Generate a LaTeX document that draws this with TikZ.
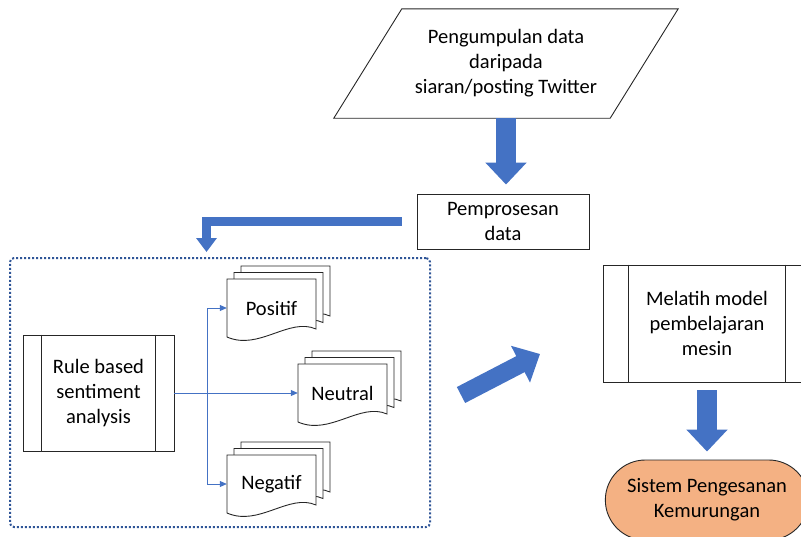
\documentclass[tikz,border=0pt]{standalone}
\usepackage{fontspec}
\setmainfont{Carlito}
\usepackage{tikz}
\usetikzlibrary{arrows.meta,positioning,shapes.misc}

\definecolor{fatblue}{HTML}{4472C4}
\definecolor{dotblue}{HTML}{2F5597}
\definecolor{termfill}{HTML}{F4B183}
\newcommand{\bodyfont}{\fontsize{20.5}{25}\selectfont}

% stacked document shape: name, left x, top y, text
\newcommand{\docstack}[4]{%
  \foreach \k in {2,1,0}
    \draw[docline,shift={(#2+7*\k,#3-6.5*\k)}] (0,0) -- (89,0) -- (89,50)
      .. controls (62,38) and (32,72) .. (0,58) -- cycle;
  \node[doctext] (#1) at (#2+44.5,#3+29) {#4};}

\begin{document}
\begin{tikzpicture}[x=1pt,y=-1pt,
  box/.style={draw=black!85,line width=0.9pt,fill=white,align=center,font=\bodyfont},
  docline/.style={draw=black!85,line width=0.9pt,fill=white},
  doctext/.style={inner sep=0pt,minimum width=89pt,minimum height=58pt,font=\bodyfont},
  fatarrow/.style={draw=fatblue,line width=20pt,-{Triangle[length=22pt,width=40pt]}},
  bentarrow/.style={draw=fatblue,line width=9pt,line join=miter,-{Triangle[length=14pt,width=20pt]}},
  thinarrow/.style={draw=fatblue,line width=0.8pt,-{Triangle[length=7pt,width=6pt]}}]
\useasboundingbox (0,0) rectangle (801,536);
\clip (0,0) rectangle (801,536);

\node[align=center,font=\bodyfont,minimum width=276pt,minimum height=109pt] (collect) at (506,63.5)
  {Pengumpulan data\\daripada\\siaran/posting Twitter};
\draw[draw=black!85,line width=0.9pt] ([xshift=34pt]collect.north west) -- ([xshift=34pt]collect.north east)
  -- ([xshift=-34pt]collect.south east) -- ([xshift=-34pt]collect.south west) -- cycle;
\node[box,minimum width=172pt,minimum height=55pt] (proc) at (503,221.5) {Pemprosesan\\data};
\draw[fatarrow,shorten >=9pt] (collect.south) -- (collect.south |- proc.north);

\node[draw=dotblue,dotted,line width=2pt,rounded corners=4pt,
  minimum width=420pt,minimum height=269pt] (group) at (220,392.5) {};
\coordinate (drop) at (206.5,252);
\draw[bentarrow] ([xshift=-15pt]proc.west) -| (drop);

\node[box,minimum width=151pt,minimum height=116pt] (rule) at (98.5,393)
  {Rule based\\sentiment\\analysis};
\draw[docline] ([xshift=19pt]rule.north west) -- ([xshift=19pt]rule.south west);
\draw[docline] ([xshift=-19pt]rule.north east) -- ([xshift=-19pt]rule.south east);

\docstack{positif}{227}{279}{Positif}
\docstack{neutral}{298}{364}{Neutral}
\docstack{negatif}{227}{455}{Negatif}

\draw[thinarrow] (rule.east) -- (neutral.west);
\draw[thinarrow] (rule.east) -- ++(33,0) |- (positif.west);
\draw[thinarrow] (rule.east) -- ++(33,0) |- (negatif.west);

\coordinate (tail) at (461,395);
\coordinate (tip) at (540,354);
\draw[fatarrow,line width=18pt] (tail) -- (tip);

\node[box,minimum width=208pt,minimum height=117pt] (train) at (707,323.5)
  {Melatih model\\pembelajaran\\mesin};
\draw[docline] ([xshift=26pt]train.north west) -- ([xshift=26pt]train.south west);
\draw[docline] ([xshift=-26pt]train.north east) -- ([xshift=-26pt]train.south east);

\node[box,rounded rectangle,fill=termfill,minimum width=210pt,minimum height=80pt] (system)
  at (707,500) {Sistem Pengesanan\\Kemurungan};
\draw[fatarrow,shorten <=8pt,shorten >=8pt] (train.south) -- (system.north);
\end{tikzpicture}
\end{document}
